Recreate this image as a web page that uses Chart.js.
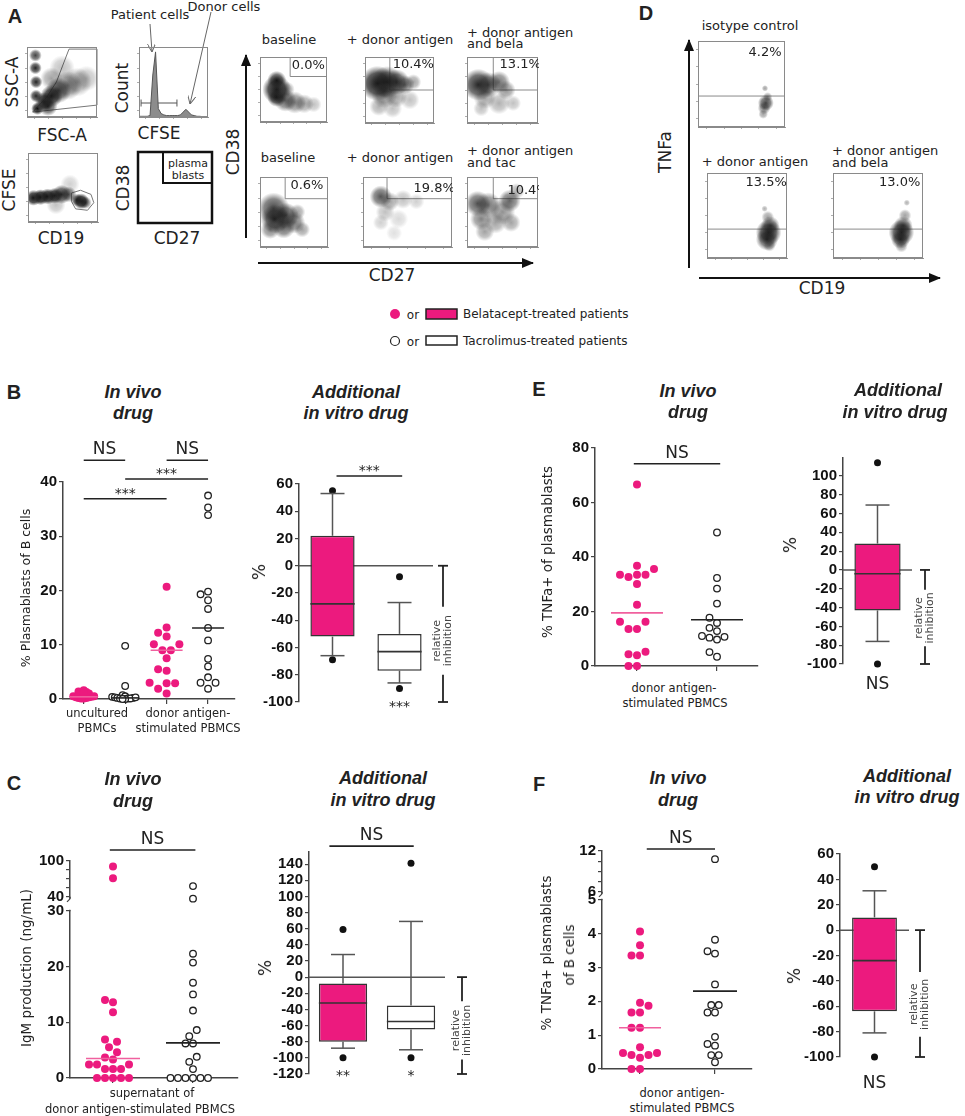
<!DOCTYPE html>
<html><head><meta charset="utf-8">
<script src="https://cdn.jsdelivr.net/npm/chart.js@4.4.1/dist/chart.umd.min.js"></script>
<style>
html,body{margin:0;padding:0;background:#fff}
#root{position:relative;width:965px;height:1116px;overflow:hidden;background:#fff;font-family:'DejaVu Sans',sans-serif;color:#222}
.t{position:absolute;white-space:nowrap;transform:translate(-50%,-50%);line-height:1}
.l{position:absolute;white-space:nowrap;transform:translate(0,-50%);line-height:1}
.r{transform:translate(-50%,-50%) rotate(-90deg)}
</style></head><body>
<div id="root">
<svg width="965" height="1116" style="position:absolute;left:0;top:0">
<defs>
<marker id="ah" viewBox="0 0 12 10" refX="11" refY="5" markerWidth="12" markerHeight="10" markerUnits="userSpaceOnUse" orient="auto"><path d="M0,0 L12,5 L0,10 z" fill="#111"/></marker>
<marker id="ao" viewBox="0 0 8 8" refX="8" refY="4" markerWidth="8" markerHeight="8" markerUnits="userSpaceOnUse" orient="auto"><path d="M0,0 L8,4 L0,8" fill="none" stroke="#666" stroke-width="1"/></marker>
</defs>
<line x1="150" y1="24" x2="152" y2="52" stroke="#666" stroke-width="1" marker-end="url(#ao)"/>
<line x1="211" y1="12" x2="190" y2="104" stroke="#666" stroke-width="1" marker-end="url(#ao)"/>
<line x1="246" y1="238" x2="246" y2="55" stroke="#111" stroke-width="2" marker-end="url(#ah)"/>
<line x1="258" y1="263" x2="533" y2="263" stroke="#111" stroke-width="2" marker-end="url(#ah)"/>
<line x1="689" y1="268" x2="689" y2="40" stroke="#111" stroke-width="2" marker-end="url(#ah)"/>
<line x1="699" y1="278" x2="940" y2="278" stroke="#111" stroke-width="2" marker-end="url(#ah)"/>
<rect x="138" y="152" width="74" height="71" fill="none" stroke="#111" stroke-width="2.5"/>
<rect x="163" y="152" width="49" height="31" fill="none" stroke="#111" stroke-width="2"/>
<circle cx="395" cy="314" r="5" fill="#EC1A7E"/>
<rect x="426" y="309" width="31" height="10" fill="#EC1A7E" stroke="#222" stroke-width="1.5"/>
<circle cx="395" cy="341" r="4.5" fill="#fff" stroke="#222" stroke-width="1.2"/>
<rect x="426" y="336" width="31" height="9" fill="#fff" stroke="#222" stroke-width="1.5"/>
</svg>
</div>
<script>
// ================= DATA =================
// Panel B - in vivo drug (% plasmablasts of B cells)
const B_UNCULT_BELA = [0.1,0.2,0.2,0.3,0.3,0.4,0.5,0.6,0.7,0.8,1.0,1.2,1.3,1.4,1.6,0.9,0.1,0.5,1.1];
const B_UNCULT_TAC  = [9.8,2.4,0.7,0.5,0.4,0.3,0.2,0.2,0.1,0.1,0.1,0.0,0.0,0.3];
const B_STIM_BELA   = [20.7,13.2,12.2,11.5,10.1,10.1,9.0,9.0,7.5,5.5,5.2,3.0,2.9,2.9,1.9,1.0];
const B_STIM_TAC    = [37.5,35.3,33.9,19.8,19.3,18.2,16.6,13.1,10.8,7.4,6.0,4.0,3.0,3.0,1.9];
const B_MEDIANS     = [0.4,0.2,9.0,13.1];
const B_TICKS       = [0,10,20,30,40];
// Panel B - additional in vitro drug (box: min,q1,median,q3,max)
const B_BOX_BELA = [-66,-52,-28,22,53];
const B_BOX_TAC  = [-86,-77,-63,-50,-27];
const B_OUT_BELA = [55,-69];
const B_OUT_TAC  = [-8,-90];
const B_BOX_TICKS = [-100,-80,-60,-40,-20,0,20,40,60];
// Panel C - IgM production
const C_BELA_LOW  = [14,13.6,11.8,6.9,6.5,5.5,4.6,3.7,3.3,2.4,2.4,2.4,1.6,1.6,1.6,0,0,0,0,0];
const C_BELA_HIGH = [91,71];
const C_TAC_LOW   = [22.3,20.7,17.1,15,12.1,8.6,7.5,6.2,6.2,3.8,2.9,1.6,0,0,0,0,0,0];
const C_TAC_HIGH  = [58,37];
const C_MEDIANS   = [3.5,6.3];
const C_TICKS_LOW = [0,10,20,30];
const C_TICKS_HIGH = [40,55,70,85,100];
const C_BOX_BELA = [-88,-80,-32,-8,28];
const C_BOX_TAC  = [-90,-65,-55,-35,69];
const C_OUT_BELA = [59,-100];
const C_OUT_TAC  = [141,-100];
const C_BOX_TICKS = [-120,-100,-80,-60,-40,-20,0,20,40,60,80,100,120,140];
// Panel E - % TNFa+ of plasmablasts
const E_BELA = [66.6,36.8,35.6,33.5,33.5,33.5,32.7,30.1,22.5,16.2,16.2,13.6,13.6,5.2,4.3,3.9,0,0];
const E_TAC  = [49,32.3,28.4,22.9,17.7,15.8,14,12.8,11,10.7,10.4,9.7,5.1,3.4];
const E_MEDIANS = [19.5,17];
const E_TICKS = [0,20,40,60,80];
const E_BOX_BELA = [-76,-43,-4,28,69];
const E_OUT_BELA = [114,-100];
const E_BOX_TICKS = [-100,-80,-60,-40,-20,0,20,40,60,80,100];
// Panel F - % TNFa+ plasmablasts of B cells
const F_BELA_LOW = [4.06,3.66,3.35,3.35,1.96,1.87,1.67,1.67,1.22,1.22,0.64,0.47,0.47,0.41,0.41,0.33,0,0];
const F_TAC_LOW  = [3.82,3.48,3.41,2.5,1.89,1.89,1.67,1.67,0.95,0.74,0.69,0.41,0.41,0.2];
const F_TAC_HIGH = [10.8];
const F_MEDIANS  = [1.22,2.3];
const F_TICKS_LOW = [0,1,2,3,4,5];
const F_TICKS_HIGH = [6,7.5,9,10.5,12];
const F_BOX_BELA = [-81,-64,-24,10,31];
const F_OUT_BELA = [50,-100];
const F_BOX_TICKS = [-100,-80,-60,-40,-20,0,20,40,60];
// Flow cytometry clouds [x%, y%, radius, density]
const SSC_CLOUD = [[15,12,4,.8],[25,22,6,.85],[35,30,7,.8],[45,38,8,.6],[58,45,9,.4],[72,50,9,.3],[85,55,8,.2],[13,30,4,.7],[13,50,4,.7],[12,70,4,.7],[12,88,4,.6],[30,15,6,.6],[35,55,7,.3],[50,70,8,.2]];
const SSC_GATE = [[8,7],[100,17],[100,97],[60,97],[42,50],[28,28],[8,7]];
const CFSE_HIST = [1,1,1,1,2,60,93,12,5,3,2,2,2,2,2,3,7,11,7,3,2,1,1,0.5,0.5,0.5];
const CFSE_GATE = [[3,20,55,20],[3,15,3,25],[55,15,55,25]];
const CD19_CLOUD = [[8,35,5,.85],[18,36,5,.9],[28,37,5,.9],[38,38,5,.85],[48,40,6,.7],[58,40,5,.5],[76,30,5,.9],[70,32,4,.6],[82,28,4,.5],[40,25,6,.2],[60,55,6,.15]];
const CD19_GATE = [[62,42],[75,46],[90,40],[94,28],[85,17],[68,19],[62,30],[62,42]];
const A_BASE1 = [[25,50,9,.85],[25,38,6,.7],[25,64,6,.7],[38,33,7,.5],[52,30,7,.4],[66,28,6,.3],[80,27,5,.2],[40,50,5,.3]];
const A_DON1  = [[18,60,11,.8],[32,62,10,.7],[46,62,8,.6],[58,58,6,.45],[28,42,8,.4],[45,40,7,.3],[20,25,6,.25],[40,22,6,.2],[65,35,6,.2],[70,62,5,.3]];
const A_BELA  = [[16,58,10,.7],[30,58,8,.5],[45,62,7,.45],[55,50,6,.35],[25,38,7,.3],[45,30,7,.25],[65,30,5,.2],[20,22,5,.2]];
const A_BASE2 = [[20,55,10,.6],[22,40,9,.7],[38,45,8,.6],[35,28,7,.5],[50,35,7,.45],[55,50,5,.3],[15,25,6,.4],[62,25,5,.3]];
const A_DON2  = [[20,72,7,.55],[30,65,6,.3],[45,68,6,.2],[25,50,6,.2],[20,35,5,.15],[40,40,6,.12],[60,65,5,.15],[35,20,5,.1]];
const A_TAC   = [[15,62,8,.55],[30,60,8,.45],[60,66,7,.5],[50,50,8,.35],[20,40,7,.4],[40,35,7,.3],[62,35,6,.3],[25,22,6,.3],[70,80,5,.25]];
const D_ISO   = [[78,28,5,.6],[76,22,4,.4],[80,35,3,.3],[77,45,2,.3],[75,15,3,.3]];
const D_DON   = [[77,30,8,.75],[75,22,7,.6],[79,38,6,.5],[76,48,4,.3],[78,15,4,.3],[72,58,2,.25]];
const D_BELA  = [[76,30,8,.75],[75,22,6,.6],[78,38,6,.5],[80,50,4,.3],[76,14,4,.3],[82,65,2,.25]];
const A_PCT = ['0.0%','10.4%','13.1%','0.6%','19.8%','10.4%'];
const D_PCT = ['4.2%','13.5%','13.0%'];

// ================= SETUP =================
const PINK='#EC1A7E', PINKLINE='#F0609E', INK='#222';
const root=document.getElementById('root');
Chart.defaults.font.family='DejaVu Sans';
Chart.defaults.animation=false;
Chart.defaults.plugins.legend.display=false;
Chart.defaults.plugins.tooltip.enabled=false;

function seg(ctx,x1,y1,x2,y2,c,w){ctx.save();ctx.strokeStyle=c||'#555';ctx.lineWidth=w||1.5;ctx.beginPath();ctx.moveTo(x1,y1);ctx.lineTo(x2,y2);ctx.stroke();ctx.restore();}
function txt(ctx,s,x,y,font,base){ctx.save();ctx.font=font;ctx.fillStyle=INK;ctx.textAlign='center';ctx.textBaseline=base||'alphabetic';ctx.fillText(s,x,y);ctx.restore();}

const annot={
  id:'annot',
  afterDatasetsUpdate(chart){
    chart.data.datasets.forEach((ds,di)=>{
      if(!ds.swarmD) return;
      const els=chart.getDatasetMeta(di).data.slice().sort((a,b)=>b.y-a.y);
      const d=ds.swarmD, placed=[];
      els.forEach(el=>{
        const x0=el.x; let xs=x0;
        for(let k=0;k<80;k++){
          const off=k===0?0:(k%2?-1:1)*Math.ceil(k/2)*d/2;
          const x=x0+off;
          if(placed.every(q=>(q.x-x)*(q.x-x)+(q.y-el.y)*(q.y-el.y)>=d*d-0.01)){xs=x;break;}
        }
        el.x=xs; placed.push({x:xs,y:el.y});
      });
    });
  },
  beforeDatasetsDraw(chart){
    const A=chart.config.options.annot; if(!A) return;
    const ctx=chart.ctx, ca=chart.chartArea;
    if(A.zero){const y=chart.scales.y.getPixelForValue(0);seg(ctx,ca.left,y,ca.right,y,'#555',1.5);}
  },
  afterDatasetsDraw(chart){
    const A=chart.config.options.annot; if(!A) return;
    const ctx=chart.ctx;
    (A.medians||[]).forEach(m=>{
      const x=chart.scales.x.getPixelForValue(m.x), y=chart.scales[m.axis||'y'].getPixelForValue(m.y);
      seg(ctx,x-m.hw,y,x+m.hw,y,m.c,1.6);
    });
    (A.boxes||[]).forEach(b=>{
      const el=chart.getDatasetMeta(0).data[b.i]; const x=el.x, hw=el.width/2;
      const Y=v=>chart.scales.y.getPixelForValue(v);
      const [mn,q1,md,q3,mx]=b.s;
      seg(ctx,x,Y(q3),x,Y(mx),'#555',1.5); seg(ctx,x-12,Y(mx),x+12,Y(mx),'#555',1.5);
      seg(ctx,x,Y(q1),x,Y(mn),'#555',1.5); seg(ctx,x-12,Y(mn),x+12,Y(mn),'#555',1.5);
      seg(ctx,x-hw,Y(md),x+hw,Y(md),'#333',1.6);
    });
  },
  afterDraw(chart){
    const A=chart.config.options.annot; if(!A) return;
    const ctx=chart.ctx, ca=chart.chartArea;
    (A.sig||[]).forEach(s=>{
      const xs=chart.scales.x, ys=chart.scales[s.axis||'y'];
      const x1=xs.getPixelForValue(s.x1), x2=xs.getPixelForValue(s.x2), y=ys.getPixelForValue(s.y);
      seg(ctx,x1,y,x2,y,INK,1.6);
      txt(ctx,s.text,(x1+x2)/2,y-s.dy,s.fs+'px DejaVu Sans');
    });
    (A.below||[]).forEach(s=>{
      const x=chart.scales.x.getPixelForValue(s.x), y=chart.scales.y.getPixelForValue(s.y);
      txt(ctx,s.text,x,y-s.dy,s.fs+'px DejaVu Sans');
    });
    if(A.bracket){
      const b=A.bracket, x=ca.right+b.dx, Y=v=>chart.scales.y.getPixelForValue(v);
      const yt=Y(b.top), yb=Y(b.bottom), g1=Y(b.gapTop), g2=Y(b.gapBottom);
      seg(ctx,x,yt,x,g1,INK,1.8); seg(ctx,x,g2,x,yb,INK,1.8);
      seg(ctx,x-5,yt,x+5,yt,INK,1.8); seg(ctx,x-5,yb,x+5,yb,INK,1.8);
      ctx.save();ctx.translate(x,(g1+g2)/2);ctx.rotate(-Math.PI/2);ctx.font='11px DejaVu Sans';ctx.fillStyle='#444';ctx.textAlign='center';ctx.textBaseline='middle';
      ctx.fillText('relative',0,-5.5);ctx.fillText('inhibition',0,5.5);ctx.restore();
    }
    if(A.brk){
      const x=ca.left, yl=chart.scales.y.getPixelForValue(A.brk.low), yu=chart.scales.yU.getPixelForValue(A.brk.up);
      ctx.save();ctx.fillStyle='#fff';ctx.fillRect(x-3,yu+2,6,yl-yu-3);ctx.restore();
      seg(ctx,x,yu,x,yu+2,'#444',1.5);
      seg(ctx,x,yu+2,x-3,yu+5,'#444',1.2);
    }
    if(A.frame){ctx.save();ctx.strokeStyle='#8a8a8a';ctx.lineWidth=1;ctx.strokeRect(ca.left+0.5,ca.top+0.5,ca.width-1,ca.height-1);ctx.restore();}
    (A.labels||[]).forEach(l=>{
      const x=chart.scales.x.getPixelForValue(l.x), y=chart.scales.y.getPixelForValue(l.y);
      txt(ctx,l.text,x,y,l.fs+'px DejaVu Sans','middle');
    });
  }
};
Chart.register(annot);

function place(l,t,w,h){const d=document.createElement('div');d.style.cssText=`position:absolute;left:${l}px;top:${t}px;width:${w}px;height:${h}px`;const c=document.createElement('canvas');d.appendChild(c);root.appendChild(d);return c;}
function T(s,x,y,css,rot){const d=document.createElement('div');d.className='t'+(rot?' r':'');d.style.left=x+'px';d.style.top=y+'px';d.style.cssText+=';'+(css||'');d.textContent=s;root.appendChild(d);}
function L(s,x,y,css){const d=document.createElement('div');d.className='l';d.style.left=x+'px';d.style.top=y+'px';d.style.cssText+=';'+(css||'');d.textContent=s;root.appendChild(d);}

const YFONT={family:'Liberation Sans',weight:'bold',size:15};
function yAxis(min,max,ticks,yW,extra,show){
  return Object.assign({type:'linear',position:'left',min,max,
    afterBuildTicks:s=>{s.ticks=ticks.map(v=>({value:v}));},
    afterFit:s=>{s.width=yW;},
    grid:{drawOnChartArea:false,drawTicks:true,tickLength:4,color:'#444',lineWidth:1.2},
    border:{display:true,color:'#444',width:1.5},
    ticks:{autoSkip:false,padding:2,color:'#111',font:YFONT,callback:v=>(show&&!show.includes(v))?'':String(v)}
  },extra||{});
}
function xAxis(min,max,ticks,xH){
  return {type:'linear',position:'bottom',min,max,
    afterBuildTicks:s=>{s.ticks=ticks.map(v=>({value:v}));},
    afterFit:s=>{s.height=xH;},
    grid:{drawOnChartArea:false,drawTicks:true,tickLength:5,color:'#444',lineWidth:1.2},
    border:{display:true,color:'#444',width:1.5},
    ticks:{autoSkip:false,callback:()=>''}};
}
function dots(vals,x,kind,d,axis){
  const bela=kind==='bela';
  return {type:'scatter',data:vals.map(v=>({x,y:v})),yAxisID:axis||'y',
    pointRadius:bela?4:3.3,pointBackgroundColor:bela?PINK:'#fff',pointBorderColor:bela?PINK:'#222',
    pointBorderWidth:bela?0:1.3,clip:false,swarmD:d};
}
function scatterChart(g,datasets,scales,an){
  const c=place(g.ax0-g.yW,g.ay0-g.t,g.yW+(g.ax1-g.ax0)+g.r,g.t+(g.ay1-g.ay0)+g.xH+g.b);
  return new Chart(c,{type:'scatter',data:{datasets},options:{responsive:true,maintainAspectRatio:false,
    layout:{padding:{top:g.t,right:g.r,bottom:g.b,left:0},autoPadding:false},scales,annot:an}});
}
function boxChart(g,ymin,ymax,ticks,stats,outs,barPct,an){
  const c=place(g.ax0-g.yW,g.ay0-g.t,g.yW+(g.ax1-g.ax0)+g.r,g.t+(g.ay1-g.ay0)+g.b);
  const names=['Belatacept','Tacrolimus'].slice(0,stats.length);
  an.boxes=stats.map((s,i)=>({i,s})); an.zero=true;
  const datasets=[
    {type:'bar',data:stats.map(s=>[s[1],s[3]]),backgroundColor:stats.map((s,i)=>i===0?PINK:'#fff'),borderColor:'#333',borderWidth:1.5,borderSkipped:false,barPercentage:barPct,categoryPercentage:1},
    {type:'scatter',data:outs.flatMap((o,i)=>o.map(v=>({x:names[i],y:v}))),pointRadius:3.5,pointBackgroundColor:'#111',pointBorderWidth:0,clip:false}
  ];
  return new Chart(c,{type:'bar',data:{labels:names,datasets},options:{responsive:true,maintainAspectRatio:false,
    layout:{padding:{top:g.t,right:g.r,bottom:g.b,left:0},autoPadding:false},
    scales:{x:{type:'category',display:false},y:yAxis(ymin,ymax,ticks,g.yW)},annot:an}});
}
function flowAxis(pos){
  return {type:'linear',min:0,max:100,position:pos,
    afterBuildTicks:s=>{s.ticks=[10,30,50,70,90].map(v=>({value:v}));},
    afterFit:s=>{if(pos==='left')s.width=4;else s.height=4;},
    grid:{drawOnChartArea:false,drawTicks:true,tickLength:2,color:'#999',lineWidth:0.8},
    border:{display:true,color:'#8a8a8a',width:1},ticks:{display:false}};
}
function lineDs(pts,color){return {type:'scatter',data:pts.map(p=>({x:p[0],y:p[1]})),showLine:true,pointRadius:0,borderColor:color||'#8a8a8a',borderWidth:1,clip:false};}
const SOFT=1.6;
function softFill(cloud){
  return c=>{
    const p=cloud[c.dataIndex]; const ch=c.chart;
    const fb=p?`rgba(25,25,25,${p[3]*0.6})`:'rgba(25,25,25,0.4)';
    if(!p||!ch.scales||!ch.scales.x||!ch.scales.y) return fb;
    const px=ch.scales.x.getPixelForValue(p[0]), py=ch.scales.y.getPixelForValue(p[1]), rr=p[2]*SOFT;
    if(!isFinite(px)||!isFinite(py)||!isFinite(rr)||rr<=0) return fb;
    const g=ch.ctx.createRadialGradient(px,py,0,px,py,rr);
    g.addColorStop(0,`rgba(15,15,15,${Math.min(1,p[3]*1.3)})`);
    g.addColorStop(0.6,`rgba(35,35,35,${Math.min(1,p[3]*0.9)})`);
    g.addColorStop(1,'rgba(60,60,60,0)');
    return g;
  };
}
function flowChart(box,cloud,segs,pct,poly){
  const [x0,y0,x1,y1]=box;
  const c=place(x0-4,y0-1,(x1-x0)+5,(y1-y0)+5);
  const ds=[{type:'bubble',data:cloud.map(p=>({x:p[0],y:p[1],r:p[2]*SOFT})),backgroundColor:softFill(cloud),borderWidth:0}];
  (segs||[]).forEach(s=>ds.push(lineDs([[s[0],s[1]],[s[2],s[3]]])));
  if(poly) ds.push(lineDs(poly,'#777'));
  const ch=new Chart(c,{type:'bubble',data:{datasets:ds},options:{responsive:true,maintainAspectRatio:false,
    layout:{padding:{top:1,right:1,bottom:0,left:0},autoPadding:false},
    scales:{x:flowAxis('bottom'),y:flowAxis('left')},
    annot:{frame:true,labels:pct?[{x:pct[1],y:pct[2],text:pct[0],fs:13}]:[]}}});
  ch.update('none');
  return ch;
}

// ================= PANEL A =================
flowChart([27,47,97,117],SSC_CLOUD,[],null,SSC_GATE);
(function(){
  const c=place(135,46,74,75);
  new Chart(c,{type:'line',data:{datasets:[
    {data:CFSE_HIST.map((v,i)=>({x:i*4,y:v})),fill:'origin',backgroundColor:'#8c8c8c',borderColor:'#555',borderWidth:1,pointRadius:0,tension:0},
    ...CFSE_GATE.map(s=>lineDs([[s[0],s[1]],[s[2],s[3]]],'#555'))
  ]},options:{responsive:true,maintainAspectRatio:false,layout:{padding:{top:1,right:1,bottom:0,left:0},autoPadding:false},
    scales:{x:flowAxis('bottom'),y:flowAxis('left')},annot:{frame:true}}});
})();
flowChart([28,153,98,222],CD19_CLOUD,[],null,CD19_GATE);
flowChart([260,57,327,122],A_BASE1,[[45,70,45,100],[45,70,100,70]],[A_PCT[0],72,86]);
flowChart([365,57,434,123],A_DON1,[[36,50,36,100],[36,50,100,50]],[A_PCT[1],70,88]);
flowChart([467,57,538,123],A_BELA,[[37,50,37,100],[37,50,100,50]],[A_PCT[2],75,88]);
flowChart([260,177,328,247],A_BASE2,[[37,69,37,100],[37,69,100,69]],[A_PCT[3],69,88]);
flowChart([363,177,452,247],A_DON2,[[27,69,27,100],[27,69,100,69]],[A_PCT[4],80,84]);
flowChart([467,177,538,247],A_TAC,[[37,69,37,100],[37,69,100,69]],[A_PCT[5],86,81]);
// ================= PANEL D =================
flowChart([698,41,785,127],D_ISO,[[0,36,100,36]],[D_PCT[0],77,87]);
flowChart([707,173,787,258],D_DON,[[0,34,100,34]],[D_PCT[1],74,89]);
flowChart([833,173,923,258],D_BELA,[[0,34,100,34]],[D_PCT[2],74,89]);

// ================= PANEL B =================
scatterChart({ax0:63,ax1:235,ay0:482,ay1:700,yW:40,xH:6,t:50,r:5,b:4},
  [dots(B_UNCULT_BELA,1,'bela',2.6),dots(B_UNCULT_TAC,2,'tac',2.6),dots(B_STIM_BELA,3,'bela',8.5),dots(B_STIM_TAC,4,'tac',7.5)],
  {x:xAxis(0.5,4.65,[1,2,3,4],6),y:yAxis(0,40,B_TICKS,40)},
  {medians:B_MEDIANS.map((v,i)=>({x:i+1,y:v,hw:i<2?14:16,c:i%2?INK:PINKLINE})),
   sig:[{x1:1,x2:2,y:44,text:'NS',fs:17,dy:6},{x1:3,x2:4,y:44,text:'NS',fs:17,dy:6},
        {x1:2,x2:4,y:40.55,text:'***',fs:14,dy:1},{x1:1,x2:3,y:36.9,text:'***',fs:14,dy:1}]});
boxChart({ax0:299,ax1:433,ay0:484,ay1:702,yW:42,t:30,r:30,b:18},-100,60,B_BOX_TICKS,[B_BOX_BELA,B_BOX_TAC],[B_OUT_BELA,B_OUT_TAC],0.66,
  {sig:[{x1:0.06,x2:1.04,y:65.9,text:'***',fs:14,dy:1}],below:[{x:1,y:-101,text:'***',fs:14,dy:-8}],
   bracket:{dx:10,top:0,bottom:-100,gapTop:-30,gapBottom:-80}});

// ================= PANEL C =================
scatterChart({ax0:70,ax1:238,ay0:861,ay1:1079,yW:42,xH:6,t:35,r:5,b:4},
  [dots(C_BELA_LOW,1,'bela',8),dots(C_BELA_HIGH,1,'bela',8,'yU'),dots(C_TAC_LOW,2,'tac',7.5),dots(C_TAC_HIGH,2,'tac',7.5,'yU')],
  {x:xAxis(0.4625,2.5625,[1,2],6),
   y:yAxis(0,30,C_TICKS_LOW,42,{stack:'s',stackWeight:168}),
   yU:yAxis(16.7,100,C_TICKS_HIGH,42,{stack:'s',stackWeight:50},[40,100])},
  {medians:C_MEDIANS.map((v,i)=>({x:i+1,y:v,hw:27,c:i?INK:PINKLINE})),
   sig:[{x1:0.96,x2:2.03,y:118.3,axis:'yU',text:'NS',fs:17,dy:6}],brk:{low:30,up:40}});
boxChart({ax0:309,ax1:445,ay0:852,ay1:1074,yW:44,t:30,r:30,b:14},-120,155,C_BOX_TICKS,[C_BOX_BELA,C_BOX_TAC],[C_OUT_BELA,C_OUT_TAC],0.71,
  {sig:[{x1:-0.2,x2:1.04,y:162.3,text:'NS',fs:17,dy:6}],
   below:[{x:0,y:-118,text:'**',fs:14,dy:-8},{x:1,y:-118,text:'*',fs:14,dy:-8}],
   bracket:{dx:17,top:0,bottom:-120,gapTop:-30,gapBottom:-102}});

// ================= PANEL E =================
scatterChart({ax0:595,ax1:758,ay0:448,ay1:667,yW:42,xH:6,t:30,r:5,b:4},
  [dots(E_BELA,1,'bela',8.5),dots(E_TAC,2,'tac',7.5)],
  {x:xAxis(0.475,2.5125,[1,2],6),y:yAxis(0,80,E_TICKS,42)},
  {medians:E_MEDIANS.map((v,i)=>({x:i+1,y:v,hw:26,c:i?INK:PINKLINE})),
   sig:[{x1:0.96,x2:2.04,y:74.2,text:'NS',fs:17,dy:6}]});
boxChart({ax0:843,ax1:912,ay0:457,ay1:664,yW:50,t:10,r:30,b:28},-100,119,E_BOX_TICKS,[E_BOX_BELA],[E_OUT_BELA],0.67,
  {below:[{x:0,y:-120,text:'NS',fs:17,dy:-6}],bracket:{dx:13,top:0,bottom:-100,gapTop:-21,gapBottom:-81}});

// ================= PANEL F =================
scatterChart({ax0:602,ax1:752,ay0:851,ay1:1070,yW:42,xH:6,t:30,r:5,b:4},
  [dots(F_BELA_LOW,1,'bela',8.5),dots(F_TAC_LOW,2,'tac',7.5),dots(F_TAC_HIGH,2,'tac',7.5,'yU')],
  {x:xAxis(0.4933,2.4933,[1,2],6),
   y:yAxis(0,5,F_TICKS_LOW,42,{stack:'s',stackWeight:170}),
   yU:yAxis(4.83,12,F_TICKS_HIGH,42,{stack:'s',stackWeight:49},[6,12])},
  {medians:F_MEDIANS.map((v,i)=>({x:i+1,y:v,hw:i?22:21,c:i?INK:PINKLINE})),
   sig:[{x1:1.09,x2:2,y:12.3,axis:'yU',text:'NS',fs:17,dy:6}],brk:{low:5,up:6}});
boxChart({ax0:840,ax1:909,ay0:853,ay1:1057,yW:50,t:10,r:30,b:32},-100,60,F_BOX_TICKS,[F_BOX_BELA],[F_OUT_BELA],0.65,
  {below:[{x:0,y:-120,text:'NS',fs:17,dy:-6}],bracket:{dx:11,top:0,bottom:-100,gapTop:-33,gapBottom:-84}});

// ================= TEXT =================
const LET='font:bold 20px "Liberation Sans"';
const TIT='font:italic bold 18px "Liberation Sans"';
const AX='font:17px "DejaVu Sans"';
const FT='font:13px "DejaVu Sans"';
T('A',15,16,LET); T('B',14,392,LET); T('C',14,783,LET); T('D',646,13,LET); T('E',539,389,LET); T('F',539,784,LET);
T('Patient cells',150,14,FT); T('Donor cells',224,6,FT);
T('SSC-A',12,82,AX,1); T('FSC-A',62,135,AX); T('Count',122,88,AX,1); T('CFSE',159,133,AX);
T('CFSE',9,190,AX,1); T('CD19',61,238,AX); T('CD38',123,188,AX,1); T('CD27',177,238,AX);
T('plasma',188,163,'font:11px "DejaVu Sans"'); T('blasts',188,175,'font:11px "DejaVu Sans"');
T('baseline',289,39,FT); T('+ donor antigen',400,39,FT); L('+ donor antigen',467,32,FT); L('and bela',467,43,FT);
T('baseline',288,157,FT); T('+ donor antigen',400,157,FT); L('+ donor antigen',467,150,FT); L('and tac',467,162,FT);
T('CD38',233,152,AX,1); T('CD27',392,275,AX);
T('isotype control',750,25,FT); T('+ donor antigen',755,161,FT); L('+ donor antigen',832,150,FT); L('and bela',832,162,FT);
T('TNFa',665,152,AX,1); T('CD19',822,288,AX);
const LG='font:12px "DejaVu Sans"';
T('or',413,315,LG); L('Belatacept-treated patients',463,314,LG);
T('or',413,342,LG); L('Tacrolimus-treated patients',463,341,LG);
// B
T('In vivo',133,392,TIT); T('drug',133,413,TIT); T('Additional',356,392,TIT); T('in vitro drug',356,413,TIT);
T('% Plasmablasts of B cells',25,588,'font:12.5px "DejaVu Sans"',1);
const GL='font:11.5px "DejaVu Sans"';
T('uncultured',97,713,GL); T('PBMCs',97,728,GL); T('donor antigen-',188,713,GL); T('stimulated PBMCS',188,728,GL);
T('%',259,572,AX,1);
// C
T('In vivo',133,779,TIT); T('drug',133,801,TIT); T('Additional',383,778,TIT); T('in vitro drug',383,800,TIT);
T('IgM  production (ng/mL)',26,968,'font:13.5px "DejaVu Sans"',1);
T('supernatant of',152,1093,GL); T('donor antigen-stimulated PBMCS',140,1109,GL);
T('%',265,968,AX,1);
// E
T('In vivo',688,391,TIT); T('drug',688,412,TIT); T('Additional',898,390,TIT); T('in vitro drug',895,412,TIT);
T('% TNFa+ of plasmablasts',547,552,'font:13.5px "DejaVu Sans"',1);
T('donor antigen-',674,688,GL); T('stimulated PBMCS',675,703,GL);
T('%',790,545,AX,1);
// F
T('In vivo',678,778,TIT); T('drug',678,800,TIT); T('Additional',907,776,TIT); T('in vitro drug',907,797,TIT);
T('% TNFa+ plasmablasts',546,953,'font:13.5px "DejaVu Sans"',1); T('of B cells',569,955,'font:13.5px "DejaVu Sans"',1);
T('donor antigen-',682,1093,GL); T('stimulated PBMCS',682,1108,GL);
T('%',794,976,AX,1);
</script>
</body></html>
